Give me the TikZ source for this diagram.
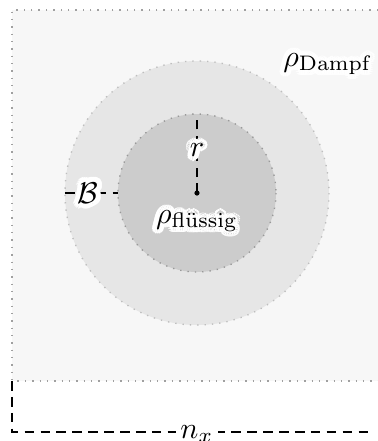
\documentclass[tikz,border=0pt]{standalone}
\usetikzlibrary{calc}
\definecolor{bgfill}{HTML}{F7F7F7}
\definecolor{outerfill}{HTML}{E6E6E6}
\definecolor{outerline}{HTML}{BEBEBE}
\definecolor{innerfill}{HTML}{CCCCCC}
\definecolor{innerline}{HTML}{999999}
\definecolor{boxline}{HTML}{A0A0A0}
\newcommand{\halolabel}[3]{%
  \foreach \a in {0,22.5,...,337.5}{\node[text=white,inner sep=0pt] at ($(#2)+(\a:1.6pt)$) {#3};}
  \node[inner sep=0pt] (#1) at (#2) {#3};}
\begin{document}
\begin{tikzpicture}[x=0.3333pt,y=-0.3333pt,
  dimline/.style={dash pattern=on 3.2pt off 2.1pt, line width=0.4pt},
  dotline/.style={dotted, line width=0.45pt}]
\useasboundingbox (0,0) rectangle (378,441);
% domain
\coordinate (tl) at (12,10);
\coordinate (bl) at (12,381);
\coordinate (tr) at (400,10);
\coordinate (br) at (400,381);
\fill[bgfill] (tl) rectangle (br);
\draw[dotline, draw=boxline] (tr) -- (tl) -- (bl) -- (br);
% bubble
\coordinate (c) at (197,193);
\draw[dotline, draw=outerline, fill=outerfill] (c) circle (132);
\draw[dotline, draw=innerline, fill=innerfill] (c) circle (79);
% dimension lines
\coordinate (rtop) at (197,114);
\draw[dimline] (c) -- (rtop);
\coordinate (bleft) at (65,193);
\coordinate (bright) at (118,193);
\draw[dimline] (bleft) -- (bright);
\fill (c) circle (2.6);
% n_x
\coordinate (nxend) at (372,432);
\coordinate (nxcorner) at (12,432);
\draw[dimline] (bl) -- (nxcorner) -- (nxend);
\node[fill=white, inner sep=1.5pt] (nx) at (197,434) {$n_x$};
% labels
\halolabel{rlab}{197,150}{$r$}
\halolabel{blab}{88,193}{$\mathcal{B}$}
\halolabel{rhof}{197,221}{$\rho_{\mathrm{fl\ddot{u}ssig}}$}
\halolabel{rhod}{328,64}{$\rho_{\mathrm{Dampf}}$}
\end{tikzpicture}
\end{document}
